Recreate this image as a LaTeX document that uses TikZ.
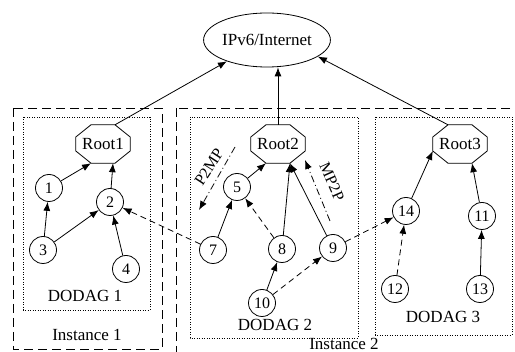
\documentclass[tikz,border=0pt]{standalone}
\usepackage{fontspec}
\setmainfont{Liberation Serif}
\usetikzlibrary{arrows.meta,shapes.geometric,calc}

% octagonal outline around a rectangular root node
\newcommand\octoframe[1]{%
  \draw[line width=0.8pt]
    ([xshift=-12pt]#1.north) -- ([xshift=12pt]#1.north)
    -- ([yshift=7pt]#1.east) -- ([yshift=-7pt]#1.east)
    -- ([xshift=12pt]#1.south) -- ([xshift=-12pt]#1.south)
    -- ([yshift=-7pt]#1.west) -- ([yshift=7pt]#1.west) -- cycle;}

\begin{document}
\begin{tikzpicture}[x=1pt,y=-1pt,
  every node/.style={font=\fontsize{17}{19}\selectfont},
  peer/.style={circle,draw,line width=0.8pt,minimum size=27pt,inner sep=0pt,
    font=\fontsize{16}{18}\selectfont},
  root/.style={rectangle,minimum width=54pt,minimum height=38pt,inner sep=0pt},
  cloud/.style={ellipse,draw,line width=0.8pt,minimum width=122pt,
    minimum height=54pt,inner sep=0pt},
  arr/.style={-{Latex[length=9pt,width=7pt]},line width=0.8pt},
  weak/.style={arr,dash pattern=on 6pt off 4pt},
  flow/.style={arr,dash pattern=on 7pt off 3pt on 1pt off 3pt},
  instbox/.style={draw,line width=0.8pt,dash pattern=on 9pt off 5pt},
  dagbox/.style={draw,line width=0.8pt,dash pattern=on 1pt off 1.5pt},
  flowlabel/.style={font=\fontsize{16}{18}\selectfont,inner sep=0pt}
]
\useasboundingbox (0,0) rectangle (515,352);
\clip (0,0) rectangle (515,352);

% instances and DODAG regions
\draw[instbox] (13,108) rectangle (162,349);
\draw[instbox] (176,108) rectangle (540,380);
\draw[dagbox] (23,117) rectangle (150,310);
\draw[dagbox] (190,117) rectangle (358,338);
\draw[dagbox] (375,117) rectangle (512,335);

\node (lbl-d1) at (85,296) {DODAG 1};
\node (lbl-i1) at (87,335) {Instance 1};
\node (lbl-d2) at (275,325) {DODAG 2};
\node (lbl-d3) at (443,317) {DODAG 3};
\node (lbl-i2) at (344,344) {Instance 2};

% backbone and roots
\node[cloud] (net) at (267,40) {IPv6/Internet};
\node[root] (r1) at (103,144) {Root1};
\node[root] (r2) at (278,144) {Root2};
\node[root] (r3) at (460,144) {Root3};
\octoframe{r1}
\octoframe{r2}
\octoframe{r3}

% sensor nodes
\node[peer] (n1) at (49,188) {1};
\node[peer] (n2) at (110,202) {2};
\node[peer] (n3) at (43,250) {3};
\node[peer] (n4) at (126,269) {4};
\node[peer] (n5) at (237,187) {5};
\node[peer] (n7) at (213,250) {7};
\node[peer] (n8) at (282,249) {8};
\node[peer] (n9) at (333,248) {9};
\node[peer] (n10) at (262,303) {10};
\node[peer] (n11) at (482,216) {11};
\node[peer] (n12) at (395,289) {12};
\node[peer] (n13) at (480,289) {13};
\node[peer] (n14) at (406,211) {14};

% roots to the internet
\draw[arr] ([xshift=12pt]r1.north) -- (net.208);
\draw[arr] (r2.north) -- (r2.north |- net.south);
\draw[arr] ([xshift=-12pt]r3.north) -- (net.342);

% DODAG 1
\draw[arr] (n1) -- ([xshift=-12pt]r1.south);
\draw[arr] (n2) -- ([xshift=10pt]r1.south);
\draw[arr] (n3) -- (n1);
\draw[arr] (n3) -- (n2);
\draw[arr] (n4) -- (n2);

% DODAG 2
\draw[weak] (n7) -- (n2);
\draw[arr] (n7) -- (n5);
\draw[arr] (n5) -- ([xshift=-12pt]r2.south);
\draw[weak] (n8) -- (n5);
\draw[arr] (n8) -- ([xshift=12pt]r2.south);
\draw[arr] (n9) -- ([xshift=12pt]r2.south);
\draw[arr] (n10) -- (n8);
\draw[weak] (n10) -- (n9);

% DODAG 3
\draw[weak] (n9) -- (n14);
\draw[arr] (n14) -- ([yshift=-7pt]r3.west);
\draw[arr] (n11) -- ([xshift=12pt]r3.south);
\draw[weak] (n12) -- (n14);
\draw[arr] (n13) -- (n11);

% traffic directions
\coordinate (p2a) at (235,147);
\coordinate (p2b) at (199,210);
\coordinate (m2a) at (330,221);
\coordinate (m2b) at (305,160);
\draw[flow] (p2a) -- (p2b);
\draw[flow] (m2a) -- (m2b);
\node[flowlabel,rotate=57] (lbl-p2mp) at (209,167) {P2MP};
\node[flowlabel,rotate=-66] (lbl-mp2p) at (332,182) {MP2P};
\end{tikzpicture}
\end{document}
